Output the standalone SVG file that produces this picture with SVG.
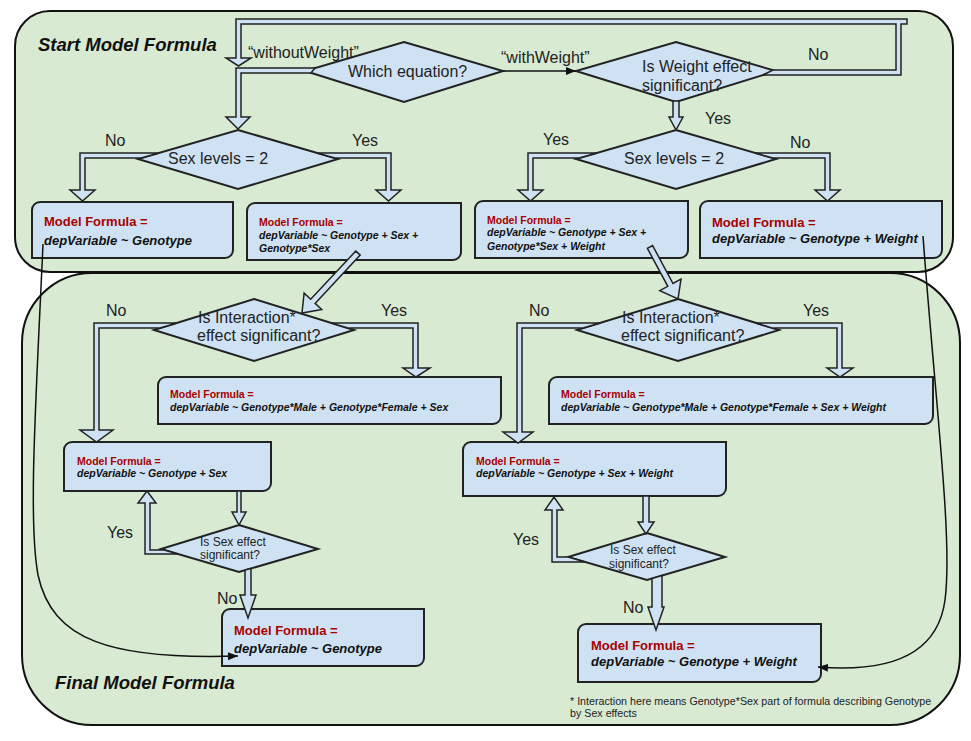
<svg xmlns="http://www.w3.org/2000/svg" width="971" height="741" viewBox="0 0 971 741">
<style>
.cont{fill:#d9ead3;stroke:#111;stroke-width:2}
.box{fill:#cfe2f3;stroke:#222;stroke-width:2}
.dia{fill:#cfe2f3;stroke:#222;stroke-width:2}
.ar{fill:#cfe2f3;stroke:#222;stroke-width:1.5;stroke-linejoin:miter}
.ln{fill:none;stroke:#111;stroke-width:1.5}
text{font-family:"Liberation Sans",Arial,sans-serif;fill:#222}
.lbl{font-size:16px}
.q{font-size:16px}
.qs{font-size:12px}
.ttl{font-size:18.5px;font-weight:bold;font-style:italic;fill:#111}
.mr{font-weight:bold;fill:#a80000}
.mf{font-weight:bold;font-style:italic;fill:#111}
.L{font-size:13px}
.S{font-size:10.5px}
.fn{font-size:10.7px}
</style>
<defs>
<marker id="tri" viewBox="0 0 10 10" refX="10" refY="5" markerWidth="10" markerHeight="10" markerUnits="userSpaceOnUse" orient="auto">
<path d="M0,1 L10,5 L0,9 Z" fill="#111"/>
</marker>
</defs>

<g id="containers">
<rect id="start-container" class="cont" x="15" y="11" width="938" height="261" rx="35" ry="35"/>
<rect id="final-container" class="cont" x="22" y="273" width="938" height="452" rx="70" ry="70"/>
<text class="ttl" x="38" y="51">Start Model Formula</text>
<text class="ttl" x="55" y="689">Final Model Formula</text>
</g>

<g id="n-which">
<polygon class="dia" points="404,42 503,71 404,102 305,71"/>
<text class="q" x="348" y="77">Which equation?</text>
</g>
<g id="n-weight">
<polygon class="dia" points="676,42 776,71 676,102 576,71"/>
<text class="q" x="642" y="72">Is Weight effect</text>
<text class="q" x="642" y="91">significant?</text>
</g>
<g id="n-sex-left">
<polygon class="dia" points="238,130 338,159 238,189 138,159"/>
<text class="q" x="168" y="164">Sex levels = 2</text>
</g>
<g id="n-sex-right">
<polygon class="dia" points="676,130 776,159 676,189 576,159"/>
<text class="q" x="624" y="164">Sex levels = 2</text>
</g>
<g id="n-b1">
<path class="box" d="M40,202 H233 V250 A8,8 0 0 1 225,258 H32 V210 A8,8 0 0 1 40,202 Z"/>
<text class="L mr" x="44" y="226">Model Formula =</text>
<text class="L mf" x="44" y="245">depVariable ~ Genotype</text>
</g>
<g id="n-b2">
<path class="box" d="M255,203 H461 V252 A8,8 0 0 1 453,260 H247 V211 A8,8 0 0 1 255,203 Z"/>
<text class="S mr" x="259" y="226">Model Formula =</text>
<text class="S mf" x="259" y="239">depVariable ~ Genotype + Sex +</text>
<text class="S mf" x="259" y="252">Genotype*Sex</text>
</g>
<g id="n-b3">
<path class="box" d="M483,201 H688 V250 A8,8 0 0 1 680,258 H475 V209 A8,8 0 0 1 483,201 Z"/>
<text class="S mr" x="487" y="224">Model Formula =</text>
<text class="S mf" x="487" y="236">depVariable ~ Genotype + Sex +</text>
<text class="S mf" x="487" y="250">Genotype*Sex + Weight</text>
</g>
<g id="n-b4">
<path class="box" d="M708,201 H942 V250 A8,8 0 0 1 934,258 H700 V209 A8,8 0 0 1 708,201 Z"/>
<text class="L mr" x="712" y="226.5">Model Formula =</text>
<text class="L mf" x="712" y="242.5">depVariable ~ Genotype + Weight</text>
</g>
<g id="n-int-left">
<polygon class="dia" points="254,299 354,330 254,361 154,330"/>
<text class="q" x="198" y="323">Is Interaction*</text>
<text class="q" x="197" y="341">effect significant?</text>
</g>
<g id="n-int-right">
<polygon class="dia" points="678,299 779,330 678,361 577,330"/>
<text class="q" x="622" y="323">Is Interaction*</text>
<text class="q" x="621" y="341">effect significant?</text>
</g>
<g id="n-b5">
<path class="box" d="M166,377 H501 V416 A8,8 0 0 1 493,424 H158 V385 A8,8 0 0 1 166,377 Z"/>
<text class="S mr" x="170" y="398">Model Formula =</text>
<text class="S mf" x="170" y="411">depVariable ~ Genotype*Male + Genotype*Female + Sex</text>
</g>
<g id="n-b6">
<path class="box" d="M72,442 H271 V483 A8,8 0 0 1 263,491 H64 V450 A8,8 0 0 1 72,442 Z"/>
<text class="S mr" x="77" y="465">Model Formula =</text>
<text class="S mf" x="77" y="477">depVariable ~ Genotype + Sex</text>
</g>
<g id="n-b8">
<path class="box" d="M557,377 H933 V416 A8,8 0 0 1 925,424 H549 V385 A8,8 0 0 1 557,377 Z"/>
<text class="S mr" x="561" y="398">Model Formula =</text>
<text class="S mf" x="561" y="411">depVariable ~ Genotype*Male + Genotype*Female + Sex + Weight</text>
</g>
<g id="n-b9">
<path class="box" d="M471,442 H726 V488 A8,8 0 0 1 718,496 H463 V450 A8,8 0 0 1 471,442 Z"/>
<text class="S mr" x="476" y="465">Model Formula =</text>
<text class="S mf" x="476" y="477">depVariable ~ Genotype + Sex + Weight</text>
</g>
<g id="n-sexeff-left">
<polygon class="dia" points="239,525 318,549 239,572 161,549"/>
<text class="qs" x="200" y="546">Is Sex effect</text>
<text class="qs" x="200" y="559">significant?</text>
</g>
<g id="n-sexeff-right">
<polygon class="dia" points="647,533 725,557 647,580 568,557"/>
<text class="qs" x="610" y="554">Is Sex effect</text>
<text class="qs" x="609" y="568">significant?</text>
</g>
<g id="n-b7">
<path class="box" d="M230,609 H424 V658 A8,8 0 0 1 416,666 H222 V617 A8,8 0 0 1 230,609 Z"/>
<text class="L mr" x="234" y="634.5">Model Formula =</text>
<text class="L mf" x="234" y="652.5">depVariable ~ Genotype</text>
</g>
<g id="n-b10">
<path class="box" d="M586,624 H821 V674 A8,8 0 0 1 813,682 H578 V632 A8,8 0 0 1 586,624 Z"/>
<text class="L mr" x="591" y="649.5">Model Formula =</text>
<text class="L mf" x="591" y="665.5">depVariable ~ Genotype + Weight</text>
</g>

<g id="connectors">
<polygon class="ar" points="773,70 896,70 896,24 241,24 241,58 251,58 238.5,66 226,58 236,58 236,19 907,19 907,24 901,24 901,75 763,75"/>
<polygon class="ar" points="315,68 236,68 236,117 226,117 238,129 250,117 241,117 241,73 311,73"/>
<line class="ln" x1="503" y1="71" x2="576" y2="71" marker-end="url(#tri)"/>
<polygon class="ar" points="673,101 673,117 669,117 676,130 683,117 679,117 679,101"/>
<polygon class="ar" points="159,153 80,153 80,190 70,190 82.5,201 95,190 85,190 85,158 141,158"/>
<polygon class="ar" points="317,153 391,153 391,190 401,190 388.5,201 376,190 386,190 386,158 335,158"/>
<polygon class="ar" points="597,153 528,153 528,190 518,190 530.5,201 543,190 533,190 533,158 579,158"/>
<polygon class="ar" points="755,153 830,153 830,190 840,190 827.5,201 815,190 825,190 825,158 773,158"/>
<polygon class="ar" points="355.8,251 310.7,299.3 304.1,293.1 302,313 321.7,309.5 315.1,303.4 360.2,255.1"/>
<polygon class="ar" points="652.6,245.6 673,283.5 681,279.2 678,299 659.8,290.6 667.8,286.3 647.4,248.4"/>
<polygon class="ar" points="177,323 94,323 94,430 80,430 96.5,442 113,430 99,430 99,328 160,328"/>
<polygon class="ar" points="331,323 418,323 418,368 430,368 416,377 403,368 413,368 413,328 348,328"/>
<polygon class="ar" points="600,323 517,323 517,432 503,432 518,443 533,432 522,432 522,328 583,328"/>
<polygon class="ar" points="756,323 842,323 842,368 853,368 840,377 827,368 837,368 837,328 772,328"/>
<polygon class="ar" points="237,491 237,512 232,512 239,525 246,512 241,512 241,491"/>
<polygon class="ar" points="164,550 150,550 150,503 156,503 147,491 138,503 145,503 145,554 178,554"/>
<polygon class="ar" points="245,570 245,595 240,595 248,618 256,595 251,595 251,568.5"/>
<polygon class="ar" points="643,496 643,522 638,522 646,534 654,522 649,522 649,496"/>
<polygon class="ar" points="568,557 557,557 557,510 563,510 554,497 545,510 552,510 552,562 585,562"/>
<polygon class="ar" points="652,578.5 652,607 648,607 656,630 664,607 662,607 662,575.6"/>
<path class="ln" d="M43,244 C36,400 28,520 38,575 C52,640 110,660 238,656" marker-end="url(#tri)"/>
<path class="ln" d="M923,236 C935,400 953,540 945,600 C937,660 880,672 818,667" marker-end="url(#tri)"/>
<text class="lbl" x="248" y="58">“withoutWeight”</text>
<text class="lbl" x="501" y="63">“withWeight”</text>
<text class="lbl" x="808" y="60">No</text>
<text class="lbl" x="705" y="124">Yes</text>
<text class="lbl" x="105" y="146">No</text>
<text class="lbl" x="352" y="146">Yes</text>
<text class="lbl" x="543" y="145">Yes</text>
<text class="lbl" x="790" y="148">No</text>
<text class="lbl" x="106" y="316">No</text>
<text class="lbl" x="381" y="316">Yes</text>
<text class="lbl" x="529" y="316">No</text>
<text class="lbl" x="803" y="316">Yes</text>
<text class="lbl" x="107" y="538">Yes</text>
<text class="lbl" x="217" y="604">No</text>
<text class="lbl" x="513" y="545">Yes</text>
<text class="lbl" x="623" y="613">No</text>
</g>
<g id="footnote">
<text class="fn" x="570" y="705">* Interaction here means Genotype*Sex part of formula describing Genotype</text>
<text class="fn" x="570" y="717">by Sex effects</text>
</g>
</svg>
